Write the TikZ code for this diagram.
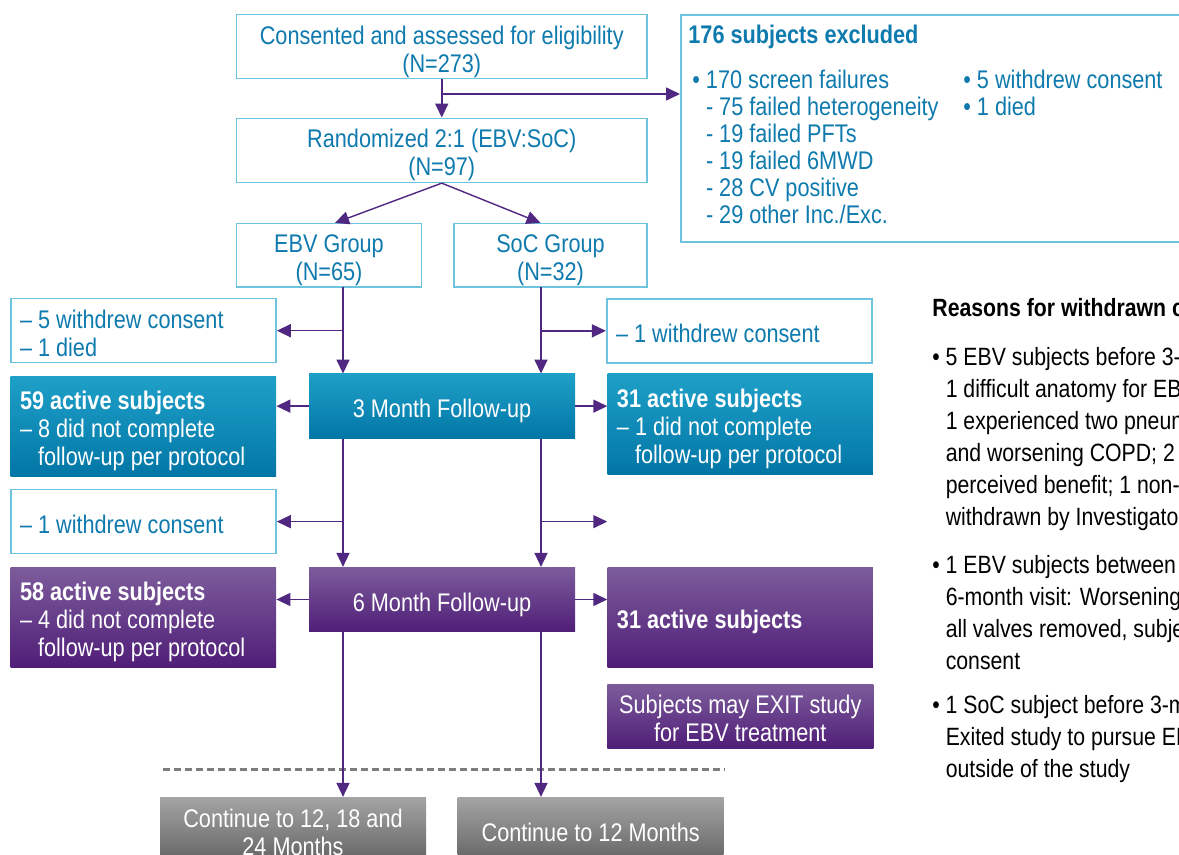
\documentclass[tikz,border=0pt]{standalone}
\usepackage{fontspec}
\setmainfont{Liberation Sans}[FakeStretch=0.85]
\usetikzlibrary{arrows.meta}
\definecolor{tealText}{RGB}{14,122,174}
\definecolor{boxLine}{RGB}{110,196,222}
\definecolor{arrowColor}{RGB}{80,40,130}
\definecolor{tealTop}{RGB}{30,160,200}
\definecolor{tealBottom}{RGB}{2,118,166}
\definecolor{purpleTop}{RGB}{124,92,155}
\definecolor{purpleBottom}{RGB}{80,30,120}
\definecolor{grayTop}{RGB}{164,164,164}
\definecolor{grayBottom}{RGB}{100,100,100}
\definecolor{dashColor}{RGB}{125,125,125}
\newcommand{\topStrut}{\vrule width 0pt height 14.5pt depth 0pt}
\newcommand{\bottomStrut}{\vrule width 0pt height 0pt depth 3pt}
\tikzstyle{flowchart} = [x = .5pt, y = -.5pt]
\tikzstyle{flowText} = [font=\fontsize{12.75}{14}\selectfont, inner xsep=4.65pt, inner ysep=0pt, execute at begin node=\topStrut, execute at end node=\bottomStrut]
\tikzstyle{whiteBox} = [flowText, draw=boxLine, line width=.8pt, text=tealText, fill=white]
\tikzstyle{centerBox} = [whiteBox, align=flush center, text width=195.95pt, minimum height=32pt]
\tikzstyle{sideBox} = [whiteBox, align=flush left, text width=123.35pt, minimum height=32pt]
\tikzstyle{tealBox} = [flowText, text=white, top color=tealTop, bottom color=tealBottom]
\tikzstyle{purpleBox} = [flowText, text=white, top color=purpleTop, bottom color=purpleBottom]
\tikzstyle{grayBox} = [flowText, text=white, top color=grayTop, bottom color=grayBottom, align=flush center, text width=123.7pt, minimum height=32.35pt]
\tikzstyle{followBox} = [align=flush center, text width=123.7pt, minimum height=32.2pt]
\tikzstyle{activeBox} = [align=flush left, text width=123.35pt, minimum height=50.2pt]
\tikzstyle{flowArrow} = [color=arrowColor, line width=.8pt, -{Triangle[length=7pt, width=6.5pt]}]
\tikzstyle{splitArrow} = [flowArrow, line width=.7pt]
\tikzstyle{dashLine} = [color=dashColor, line width=1.5pt, dash pattern=on 3.5pt off 2pt]
\tikzstyle{noteText} = [font=\fontsize{12.5}{16}\selectfont, inner sep=0pt, align=left, execute at begin node=\strut]
\tikzstyle{exclText} = [noteText, text=tealText, font=\fontsize{12.75}{13.5}\selectfont]

\begin{document}
\begin{tikzpicture}[flowchart]
  \useasboundingbox (0,0) rectangle (1179,855);
  \clip (0,0) rectangle (1179,855);

  % screening and randomisation
  \node [centerBox] (consented) at (441.75,46.7) {Consented and assessed for eligibility\\(N=273)};
  \node [centerBox] (randomized) at (441.75,150.35) {Randomized 2:1 (EBV:SoC)\\(N=97)};
  \node [whiteBox, align=flush center, text width=83.2pt, minimum height=31.8pt] (ebvGroup) at (329,255.5) {EBV Group\\(N=65)};
  \node [whiteBox, align=flush center, text width=87.2pt, minimum height=31.8pt] (socGroup) at (550.5,255.5) {SoC Group\\(N=32)};

  \node [whiteBox, anchor=north west, minimum width=260pt, minimum height=113.5pt] (excluded) at (680,14) {};
  \node [exclText, anchor=north west] (excludedTitle) at (688,24) {\textbf{176 subjects excluded}};
  \node [exclText, anchor=north west] (screenFailures) at (692,70) {\textbullet\ 170 screen failures\\
    \phantom{\textbullet\ }- 75 failed heterogeneity\\
    \phantom{\textbullet\ }- 19 failed PFTs\\
    \phantom{\textbullet\ }- 19 failed 6MWD\\
    \phantom{\textbullet\ }- 28 CV positive\\
    \phantom{\textbullet\ }- 29 other Inc./Exc.};
  \node [exclText, anchor=north west] (otherReasons) at (963,70) {\textbullet\ 5 withdrew consent\\\textbullet\ 1 died};

  \draw [flowArrow] (consented.south) -- (randomized.north);
  \coordinate (excludedSplit) at (441.75,94);
  \draw [flowArrow] (excludedSplit) -- (excludedSplit -| excluded.west);
  \draw [splitArrow] (randomized.south) -- ([xshift=3pt]ebvGroup.north);
  \draw [splitArrow] (randomized.south) -- ([xshift=-5pt]socGroup.north);

  % 3 month follow-up
  \coordinate (ebvLine) at (343,287.3);
  \coordinate (socLine) at (541,287.3);
  \node [sideBox] (ebvWithdrawnA) at (143.35,330.7) {– 5 withdrew consent\\– 1 died};
  \node [sideBox] (socWithdrawnA) at (739.35,330.85) {– 1 withdrew consent};
  \node [tealBox, followBox] (month3) at (442,406.15) {3 Month Follow-up};
  \node [tealBox, activeBox] (ebvActiveA) at (143.35,426.35) {\textbf{59 active subjects}\\– 8 did not complete\\\phantom{– }follow-up per protocol};
  \node [tealBox, activeBox] (socActiveA) at (740.3,424.15) {\textbf{31 active subjects}\\– 1 did not complete\\\phantom{– }follow-up per protocol};

  \draw [flowArrow] (ebvLine) -- (ebvLine |- month3.north);
  \draw [flowArrow] (ebvLine |- ebvWithdrawnA.east) -- (ebvWithdrawnA.east);
  \draw [flowArrow] (socLine) -- (socLine |- month3.north);
  \draw [flowArrow] (socLine |- socWithdrawnA.west) -- (socWithdrawnA.west);
  \draw [flowArrow] (month3.west) -- (month3.west -| ebvActiveA.east);
  \draw [flowArrow] (month3.east) -- (month3.east -| socActiveA.west);

  % 6 month follow-up
  \node [sideBox] (ebvWithdrawnB) at (143.35,521.65) {– 1 withdrew consent};
  \node [purpleBox, followBox] (month6) at (442,599.5) {6 Month Follow-up};
  \node [purpleBox, activeBox] (ebvActiveB) at (143.35,617.3) {\textbf{58 active subjects}\\– 4 did not complete\\\phantom{– }follow-up per protocol};
  \node [purpleBox, activeBox] (socActiveB) at (740.3,617.3) {\textbf{31 active subjects}};
  \node [purpleBox, followBox] (exitStudy) at (740.3,716.35) {Subjects may EXIT study\\for EBV treatment};

  \draw [flowArrow] (ebvLine |- month3.south) -- (ebvLine |- month6.north);
  \draw [flowArrow] (ebvLine |- ebvWithdrawnB.east) -- (ebvWithdrawnB.east);
  \draw [flowArrow] (socLine |- month3.south) -- (socLine |- month6.north);
  \draw [flowArrow] (socLine |- ebvWithdrawnB.east) -- (socActiveA.west |- ebvWithdrawnB.east);
  \draw [flowArrow] (month6.west) -- (month6.west -| ebvActiveB.east);
  \draw [flowArrow] (month6.east) -- (month6.east -| socActiveB.west);

  % continuation
  \draw [dashLine] (162.5,769.3) -- (725,769.3);
  \node [grayBox] (ebvContinue) at (293,829.65) {Continue to 12, 18 and\\24 Months};
  \node [grayBox] (socContinue) at (590.65,829.65) {Continue to 12 Months};
  \draw [flowArrow] (ebvLine |- month6.south) -- (ebvLine |- ebvContinue.north);
  \draw [flowArrow] (socLine |- month6.south) -- (socLine |- socContinue.north);

  % reasons for withdrawal
  \node [noteText, anchor=north west] (reasonsTitle) at (932,294) {\textbf{Reasons for withdrawn c}};
  \node [noteText, anchor=north west] (reasonsA) at (932,346.6) {\textbullet\ 5 EBV subjects before 3-m\\
    \phantom{\textbullet\ }1 difficult anatomy for EB\\
    \phantom{\textbullet\ }1 experienced two pneum\\
    \phantom{\textbullet\ }and worsening COPD; 2 f\\
    \phantom{\textbullet\ }perceived benefit; 1 non-\\
    \phantom{\textbullet\ }withdrawn by Investigato};
  \node [noteText, anchor=north west] (reasonsB) at (932,554.6) {\textbullet\ 1 EBV subjects between 3\\
    \phantom{\textbullet\ }6-month visit: Worsening\\
    \phantom{\textbullet\ }all valves removed, subje\\
    \phantom{\textbullet\ }consent};
  \node [noteText, anchor=north west] (reasonsC) at (932,694.6) {\textbullet\ 1 SoC subject before 3-m\\
    \phantom{\textbullet\ }Exited study to pursue EB\\
    \phantom{\textbullet\ }outside of the study};
\end{tikzpicture}
\end{document}
